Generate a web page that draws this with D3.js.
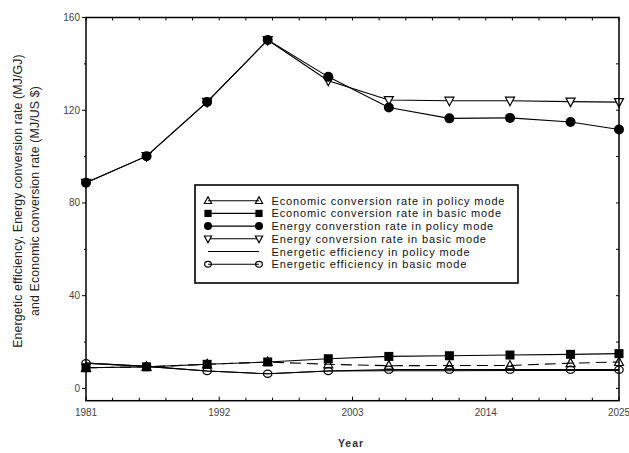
<!DOCTYPE html>
<html>
<head>
<meta charset="utf-8">
<script src="https://cdn.jsdelivr.net/npm/d3@7"></script>
<style>
  body { margin: 0; background: #fff; }
  text { font-family: "Liberation Sans", Arial, sans-serif; }
</style>
</head>
<body>
<script>
(function() {
  'use strict';

  // data
  var years = [1981, 1986, 1991, 1996, 2001, 2006, 2011, 2016, 2021, 2025];
  var econPolicy   = [8.9, 9.3, 10.4, 11.4, 10.4, 9.8, 9.9, 9.9, 10.9, 11.4];
  var econBasic    = [8.9, 9.3, 10.4, 11.4, 12.8, 13.8, 14.1, 14.4, 14.7, 15.0];
  var energyPolicy = [88.7, 100.2, 123.6, 150.3, 134.4, 121.2, 116.5, 116.7, 114.9, 111.7];
  var energyBasic  = [88.7, 100.2, 123.6, 150.3, 132.7, 124.4, 124.1, 124.1, 123.7, 123.5];
  var effPolicy    = [10.9, 9.5, 7.5, 6.3, 7.5, 7.6, 7.6, 7.7, 7.7, 7.7];
  var effBasic     = [10.9, 9.5, 7.5, 6.3, 7.5, 8.1, 8.1, 8.1, 8.1, 8.1];

  var xTicks = [1981, 1992, 2003, 2014, 2025];
  var yTicks = [0, 40, 80, 120, 160];

  var series = [
    { name: "Economic conversion rate in policy mode", values: econPolicy, marker: "triUp", dash: "11,6" },
    { name: "Economic conversion rate in basic mode", values: econBasic, marker: "square" },
    { name: "Energy converstion rate in policy mode", values: energyPolicy, marker: "dot" },
    { name: "Energy conversion rate in basic mode", values: energyBasic, marker: "triDown" },
    { name: "Energetic efficiency in policy mode", values: effPolicy, marker: "none" },
    { name: "Energetic efficiency in basic mode", values: effBasic, marker: "ring" }
  ];
  // drawing order, later on top
  var drawOrder = [5, 4, 0, 1, 3, 2];

  var W = 629, H = 453;
  var left = 86, right = 619, top = 17.5, bottom = 400.7;

  var svg = d3.select("body")
    .append("svg")
      .attr("width", W)
      .attr("height", H);

  var x = d3.scaleLinear().domain([1981, 2025]).range([left, right]);
  var y = d3.scaleLinear().domain([-5.3, 160]).range([bottom, top]);

  // minor ticks
  var xMinor = d3.range(0, 21).map(function(i) { return 1981 + i * 2.2; });
  var yMinor = d3.range(0, 9).map(function(i) { return i * 20; });

  var g = svg.append("g");

  // bottom axis: inward ticks
  g.selectAll(".xb").data(xMinor).enter().append("line")
    .attr("x1", function(d) { return x(d); }).attr("x2", function(d) { return x(d); })
    .attr("y1", bottom).attr("y2", function(d, i) { return bottom - (i % 5 === 0 ? 4 : 3); })
    .style("stroke", "black").style("stroke-width", 1);
  // top axis
  g.selectAll(".xt").data(xMinor).enter().append("line")
    .attr("x1", function(d) { return x(d); }).attr("x2", function(d) { return x(d); })
    .attr("y1", top).attr("y2", top + 3)
    .style("stroke", "black").style("stroke-width", 1);
  // left axis: outward ticks
  g.selectAll(".yl").data(yMinor).enter().append("line")
    .attr("y1", function(d) { return y(d); }).attr("y2", function(d) { return y(d); })
    .attr("x1", left).attr("x2", function(d, i) { return left - (i % 2 === 0 ? 4 : 2); })
    .style("stroke", "black").style("stroke-width", 1);
  // right axis: inward ticks
  g.selectAll(".yr").data(yMinor).enter().append("line")
    .attr("y1", function(d) { return y(d); }).attr("y2", function(d) { return y(d); })
    .attr("x1", right).attr("x2", right - 3)
    .style("stroke", "black").style("stroke-width", 1);

  g.selectAll(".xl").data(xTicks).enter().append("text")
    .attr("x", function(d) { return x(d); })
    .attr("y", 416)
    .attr("text-anchor", "middle")
    .style("font-size", "10px")
    .style("fill", "#444")
    .text(function(d) { return d; });

  g.selectAll(".yla").data(yTicks).enter().append("text")
    .attr("x", 80)
    .attr("y", function(d) { return y(d) + 3.5; })
    .attr("text-anchor", "end")
    .style("font-size", "10px")
    .style("fill", "#444")
    .text(function(d) { return d; });

  // axis titles
  svg.append("text")
    .attr("x", 351).attr("y", 447)
    .attr("text-anchor", "middle")
    .style("font-size", "10.5px")
    .style("font-weight", "bold")
    .style("letter-spacing", "1px")
    .style("fill", "#333")
    .text("Year");

  var yt = svg.append("text")
    .attr("transform", "translate(0,201) rotate(-90)")
    .attr("text-anchor", "middle")
    .style("font-size", "12.3px")
    .style("letter-spacing", "0.15px")
    .style("fill", "#222");
  yt.append("tspan").attr("x", 0).attr("y", 22)
    .text("Energetic efficiency, Energy conversion rate (MJ/GJ)");
  yt.append("tspan").attr("x", 0).attr("y", 39)
    .text("and Economic conversion rate (MJ/US $)");

  // markers
  function drawMarker(sel, type, cx, cy, k) {
    k = k || 1;
    if (type === "dot") {
      sel.append("circle").attr("cx", cx).attr("cy", cy).attr("r", 5 * k).style("fill", "black");
    } else if (type === "ring") {
      sel.append("ellipse").attr("cx", cx).attr("cy", cy).attr("rx", 4.2 * k).attr("ry", 3.6 * k)
        .style("fill", "none").style("stroke", "black").style("stroke-width", 1.2);
    } else if (type === "square") {
      sel.append("rect").attr("x", cx - 4.5 * k).attr("y", cy - 4.5 * k)
        .attr("width", 9 * k).attr("height", 9 * k)
        .style("fill", "black");
    } else if (type === "triUp") {
      sel.append("path").attr("d", "M" + cx + "," + (cy - 5 * k) + "L" + (cx + 4.5 * k) + "," + (cy + 3.5 * k) + "L" + (cx - 4.5 * k) + "," + (cy + 3.5 * k) + "Z")
        .style("fill", "none").style("stroke", "black").style("stroke-width", 1.2);
    } else if (type === "triDown") {
      sel.append("path").attr("d", "M" + cx + "," + (cy + 5 * k) + "L" + (cx + 4.5 * k) + "," + (cy - 3.5 * k) + "L" + (cx - 4.5 * k) + "," + (cy - 3.5 * k) + "Z")
        .style("fill", "white").style("stroke", "black").style("stroke-width", 1.2);
    }
  }

  var line = d3.line()
    .x(function(d) { return x(d[0]); })
    .y(function(d) { return y(d[1]); });

  var plot = svg.append("g");
  drawOrder.forEach(function(k) {
    var s = series[k];
    var pts = years.map(function(yr, i) { return [yr, s.values[i]]; });
    plot.append("path")
      .attr("d", line(pts))
      .style("fill", "none")
      .style("stroke", "black")
      .style("stroke-width", 1.1)
      .style("stroke-dasharray", s.dash || null);
  });
  drawOrder.forEach(function(k) {
    var s = series[k];
    years.forEach(function(yr, i) {
      drawMarker(plot, s.marker, x(yr), y(s.values[i]));
    });
  });

  // frame
  svg.append("rect")
    .attr("x", left).attr("y", top)
    .attr("width", right - left).attr("height", bottom - top)
    .style("fill", "none")
    .style("stroke", "black")
    .style("stroke-width", 1.5);

  // legend
  var lg = svg.append("g");
  lg.append("rect")
    .attr("x", 195).attr("y", 185)
    .attr("width", 323).attr("height", 98)
    .style("fill", "white")
    .style("stroke", "black")
    .style("stroke-width", 1.6);

  series.forEach(function(s, i) {
    var ly = 200.7 + i * 12.7;
    lg.append("line")
      .attr("x1", 208).attr("x2", 259)
      .attr("y1", ly).attr("y2", ly)
      .style("stroke", "black").style("stroke-width", 1.1);
    if (s.marker !== "none") {
      drawMarker(lg, s.marker, 208, ly, 0.8);
      drawMarker(lg, s.marker, 259, ly, 0.8);
    }
    lg.append("text")
      .attr("x", 271.5).attr("y", ly + 4)
      .style("font-size", "11px")
      .style("letter-spacing", "0.87px")
      .style("fill", "#111")
      .text(s.name);
  });

}) ();
</script>
</body>
</html>
